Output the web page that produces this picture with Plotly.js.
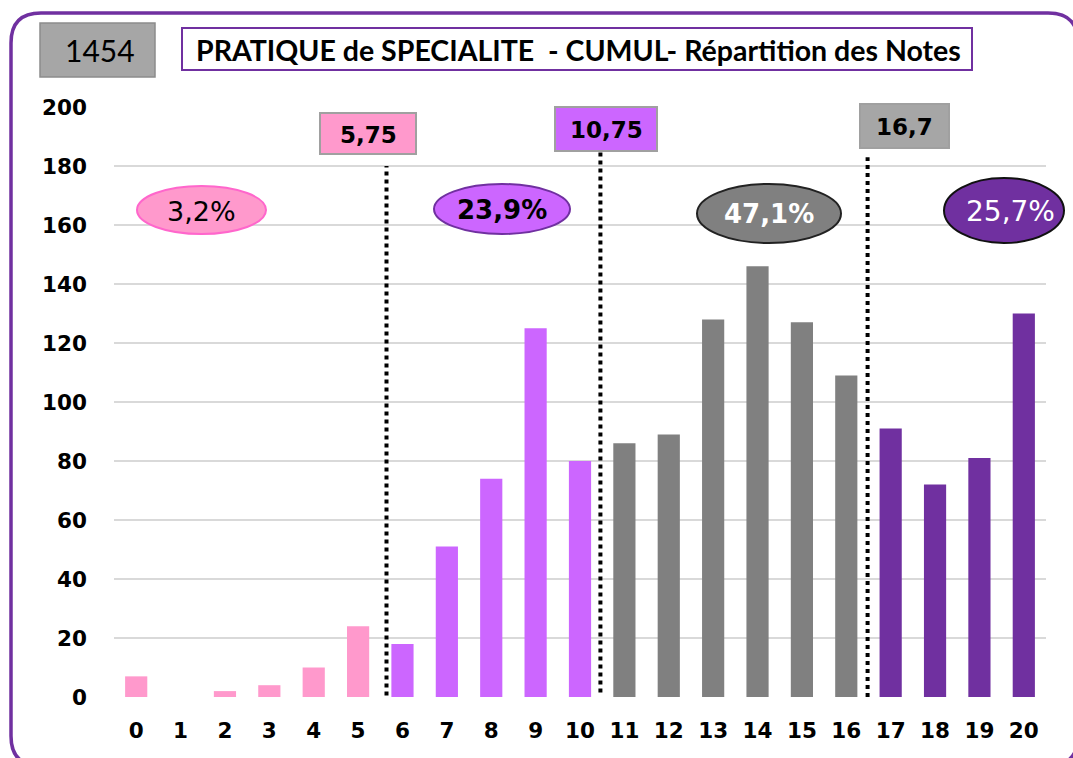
<!DOCTYPE html>
<html><head><meta charset="utf-8">
<script src="https://cdn.plot.ly/plotly-3.0.1.min.js"></script>
<style>html,body{margin:0;padding:0;background:#fff;overflow:hidden}#chart{width:1073px;height:758px}</style>
</head><body><div id="chart"></div>
<script>
// ---- data ----
const notes = [0,1,2,3,4,5,6,7,8,9,10,11,12,13,14,15,16,17,18,19,20];
const counts = [7,0,2,4,10,24,18,51,74,125,80,86,89,128,146,127,109,91,72,81,130];
const cutoffs = [5.75, 10.75, 16.7];
const cutoffLabels = ['5,75', '10,75', '16,7'];
const chartTitle = 'PRATIQUE de SPECIALITE  - CUMUL- Répartition des Notes';
const yTicks = [0,20,40,60,80,100,120,140,160,180,200];

// ---- styles ----
const groupColors = ['#ff99cc', '#cc66ff', '#808080', '#7030a0'];
const frameColor = '#7030a0';

const groupOf = n => cutoffs.filter(c => n > c).length;
const barColors = notes.map(n => groupColors[groupOf(n)]);
const total = counts.reduce((a, b) => a + b, 0);
const groupSums = [0,0,0,0];
notes.forEach((n, i) => { groupSums[groupOf(n)] += counts[i]; });
const pctText = groupSums.map(s => (100 * s / total).toFixed(1).replace('.', ',') + '%');

// pixel -> paper helpers
const M = {l:114, r:27, t:107, b:61};
const W = 1073, H = 758;
const PW = W - M.l - M.r, PH = H - M.t - M.b;
const X = px => (px - M.l) / PW;
const Y = py => (H - M.b - py) / PH;

const shapes = [];
const annotations = [];

// outer rounded frame
(function(){
  const x0=11, y0=13, x1=1078, y1=766, r=30;
  const p = (a,b) => X(a) + ',' + Y(b);
  const d = 'M' + p(x0+r,y0) + ' L' + p(x1-r,y0) + ' Q' + p(x1,y0) + ' ' + p(x1,y0+r) +
    ' L' + p(x1,y1-r) + ' Q' + p(x1,y1) + ' ' + p(x1-r,y1) +
    ' L' + p(x0+r,y1) + ' Q' + p(x0,y1) + ' ' + p(x0,y1-r) +
    ' L' + p(x0,y0+r) + ' Q' + p(x0,y0) + ' ' + p(x0+r,y0) + ' Z';
  shapes.push({type:'path', xref:'paper', yref:'paper', path:d, line:{color:frameColor, width:3.5}, fillcolor:'rgba(0,0,0,0)', layer:'below'});
})();

function rectPx(x0,y0,x1,y1,fill,lineColor,lw){
  shapes.push({type:'rect', xref:'paper', yref:'paper', x0:X(x0), x1:X(x1), y0:Y(y1), y1:Y(y0),
    fillcolor:fill, line:{color:lineColor, width:lw}});
}
function ellipsePx(x0,y0,x1,y1,fill,lineColor,lw){
  shapes.push({type:'circle', xref:'paper', yref:'paper', x0:X(x0), x1:X(x1), y0:Y(y1), y1:Y(y0),
    fillcolor:fill, line:{color:lineColor, width:lw}});
}
function textPx(cx,cy,txt,font){
  annotations.push({xref:'paper', yref:'paper', x:X(cx), y:Y(cy), xanchor:'center', yanchor:'middle',
    text:txt, showarrow:false, font:font});
}

// total box + title box
rectPx(40,23,155,77,'#a6a6a6','#8c8c8c',1.5);
textPx(100,50,String(total),{family:'Lato', size:30, color:'#000'});
rectPx(182,28,972,70,'#ffffff',frameColor,2);
textPx(578,50,chartTitle,{family:'Lato', size:28.5, color:'#000', weight:700});

// cutoff label boxes
const boxPx = [[320,113,416,154],[555,107,657,151],[860,104,949,148]];
const boxFill = [groupColors[0], groupColors[1], '#a6a6a6'];
boxPx.forEach((b,i) => {
  rectPx(b[0],b[1],b[2],b[3],boxFill[i],'#a0a0a0',2);
  textPx((b[0]+b[2])/2,(b[1]+b[3])/2+1,cutoffLabels[i],{family:'DejaVu Sans', size:23, color:'#000', weight:700});
});

// dotted separator lines (data coords)
const sepX = [5.64, 10.46, 16.48];
const sepY = [[-2.2,180],[1.5,185],[0,183]];
sepX.forEach((x,i) => {
  shapes.push({type:'line', xref:'x', yref:'y', x0:x, x1:x, y0:sepY[i][0], y1:sepY[i][1],
    line:{color:'#000', width:4, dash:'dot'}});
});

// percentage ellipses
const ellPx = [[137,186,266,234],[434,184,570,234],[697,184,841,243],[944,178,1064,243]];
const ellLine = ['#ff66cc','#7030a0','#222222','#111111'];
const ellText = [
  {family:'DejaVu Sans', size:27, color:'#000'},
  {family:'DejaVu Sans', size:26, color:'#000', weight:700},
  {family:'DejaVu Sans', size:26, color:'#fff', weight:700},
  {family:'DejaVu Sans', size:28, color:'#fff'}
];
ellPx.forEach((e,i) => {
  ellipsePx(e[0],e[1],e[2],e[3],groupColors[i],ellLine[i],2);
  textPx((e[0]+e[2])/2+(i===3?6:0),(e[1]+e[3])/2+1,pctText[i],ellText[i]);
});

const trace = {
  type:'bar', x:notes, y:counts,
  marker:{color:barColors, line:{width:0}},
  hoverinfo:'x+y'
};

const tickFont = {family:'DejaVu Sans', size:21.5, color:'#000', weight:700};
const layout = {
  width:W, height:H,
  margin:M,
  paper_bgcolor:'#fff', plot_bgcolor:'#fff',
  showlegend:false,
  bargap:0.5,
  xaxis:{range:[-0.5,20.5], tickvals:notes, ticktext:notes.map(String), showgrid:false,
    zeroline:false, showline:false, ticks:'', tickfont:tickFont, ticklabelstandoff:18, fixedrange:true},
  yaxis:{range:[0,200], tickvals:yTicks, showgrid:true, gridcolor:'#d9d9d9', gridwidth:1.5,
    zeroline:false, showline:false, ticks:'', tickfont:tickFont, ticklabelstandoff:26, fixedrange:true},
  shapes:shapes,
  annotations:annotations
};

Plotly.newPlot('chart',[trace],layout,{displayModeBar:false, staticPlot:true});
</script>
</body></html>
